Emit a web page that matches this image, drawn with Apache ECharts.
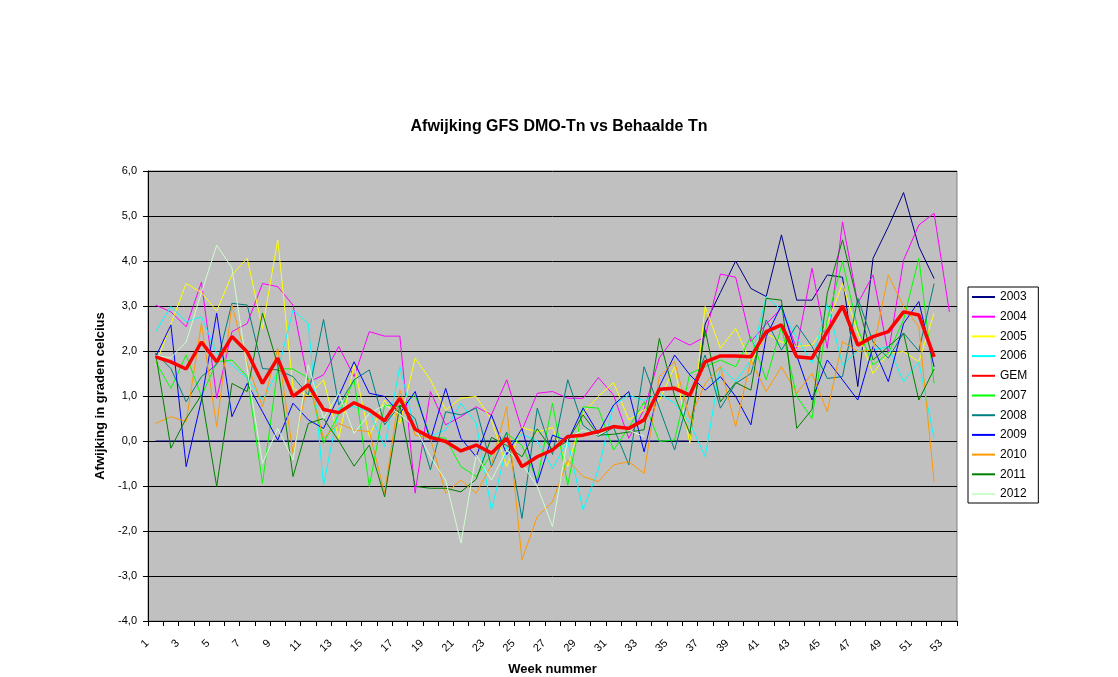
<!doctype html>
<html>
<head>
<meta charset="utf-8">
<title>Afwijking GFS DMO-Tn vs Behaalde Tn</title>
<script src="https://cdn.jsdelivr.net/npm/echarts@6/dist/echarts.min.js"></script>
<style>
html,body{margin:0;padding:0;background:#fff;}
#chart{width:1118px;height:677px;}
</style>
</head>
<body>
<div id="chart"></div>
<script>
// weken 1..53
var weken = [];
for (var w = 1; w <= 53; w++) { weken.push(String(w)); }

var j2003 = [0, 0, 0, 0, 0, 0, 0, 0, 0, 0,
             0, 0, 0, 0, 0, 0, 0, 0, 0, 0,
             0, 0, 0, 0, 0, 0, 0, 0, 0, 0,
             0, 0, 0, 0, 0, 0, 2.6, 3.3, 4.0, 3.39,
             3.21, 4.58, 3.13, 3.13, 3.69, 3.64, 1.21, 4.06, 4.76, 5.52,
             4.32, 3.61];
var j2004 = [3.02, 2.87, 2.54, 3.53, 0.95, 2.43, 2.61, 3.5, 3.43, 3.02,
             1.3, 1.47, 2.1, 1.43, 2.43, 2.33, 2.33, -1.16, 1.1, 0.36,
             0.54, 0.76, 0.58, 1.36, 0.24, 1.06, 1.1, 0.95, 0.95, 1.41,
             1.02, 0.06, 0.7, 1.85, 2.3, 2.13, 2.32, 3.71, 3.64, 2.21,
             2.6, 2.95, 2.06, 3.84, 2.06, 4.87, 3.06, 3.69, 1.95, 4.02,
             4.8, 5.06, 2.87];
var j2005 = [1.69, 2.6, 3.5, 3.3, 2.89, 3.69, 4.06, 2.5, 4.47, 1.17,
             1.0, 1.36, 0.06, 1.69, 0.1, 0.91, 0.39, 1.84, 1.36, 0.69,
             0.95, 0.99, 0.47, -0.57, 0.3, 0.2, 0.3, -0.57, 0.61, 0.99,
             1.3, 0.47, 0.69, 0.9, 1.65, -0.05, 2.99, 2.06, 2.5, 1.73,
             2.39, 2.2, 2.1, 2.13, 2.6, 3.5, 2.4, 1.5, 1.95, 1.99,
             1.76, 2.84];
var j2006 = [2.43, 2.99, 2.65, 2.76, 1.95, 1.69, 1.39, 0.91, 1.54, 2.91,
             2.61, -0.98, 0.73, 0.76, 0.65, -0.13, 1.65, 0.24, 0.1, 0.25,
             0.84, 0.4, -1.53, -0.13, 0.15, 0.0, -0.61, 0.0, -1.53, -0.64,
             0.8, 1.02, 0.9, 1.06, 0.84, 0.4, -0.35, 1.65, 1.32, 1.8,
             3.21, 2.91, 2.3, 1.73, 3.06, 1.69, 2.0, 2.02, 2.1, 1.32,
             1.76, 0.06];
var gem = [1.87, 1.76, 1.6, 2.2, 1.76, 2.32, 1.98, 1.28, 1.84, 0.99,
           1.25, 0.7, 0.63, 0.85, 0.69, 0.45, 0.95, 0.26, 0.08, -0.01,
           -0.22, -0.09, -0.27, 0.06, -0.57, -0.35, -0.2, 0.1, 0.13, 0.21,
           0.32, 0.28, 0.47, 1.15, 1.17, 1.02, 1.76, 1.89, 1.89, 1.87,
           2.43, 2.58, 1.87, 1.84, 2.43, 3.0, 2.13, 2.32, 2.43, 2.87,
           2.8, 1.87];
var j2007 = [1.76, 1.17, 1.91, 0.99, 1.76, 1.8, 1.43, -0.94, 1.61, 1.6,
             1.4, -0.05, 0.6, 1.36, -1.01, 0.8, 0.76, 1.02, 0.1, 0.06,
             -0.57, -0.79, -0.3, 0.17, -0.1, -0.87, 0.84, -0.98, 0.76, 0.73,
             -0.2, 0.3, 0.87, -0.01, 0.02, 1.5, 1.65, 1.8, 1.65, 2.32,
             1.36, 2.54, 0.99, 0.5, 2.7, 3.99, 2.5, 1.69, 1.95, 2.69,
             4.06, 1.28];
var j2008 = [1.95, 1.61, 0.87, 1.43, 1.7, 3.06, 3.02, 1.61, 1.58, 1.43,
             1.02, 2.7, 0.8, 1.36, 1.58, 0.36, 0.8, 0.5, -0.64, 0.65,
             0.58, 0.73, -0.57, 0.2, -1.72, 0.73, -0.3, 1.36, 0.35, 0.1,
             0.3, -0.53, 1.65, 0.73, -0.2, 1.06, 1.91, 0.73, 1.28, 1.5,
             2.69, 2.02, 2.58, 2.1, 1.39, 1.43, 3.17, 2.2, 1.84, 2.4,
             2.0, 3.5];
var j2009 = [1.87, 2.58, -0.57, 0.91, 2.84, 0.54, 1.28, 0.65, 0.02, 0.84,
             0.47, 0.28, 1.0, 1.76, 1.06, 0.99, 0.61, 1.1, 0.02, 1.17,
             0.06, -0.35, 0.58, -0.3, 0.28, -0.94, 0.13, 0.0, 0.73, 0.17,
             0.8, 1.1, -0.24, 1.21, 1.91, 1.47, 1.13, 1.43, 0.99, 0.36,
             2.32, 3.02, 1.9, 0.91, 1.8, 1.36, 0.91, 2.1, 1.32, 2.61,
             3.1, 1.65];
var j2010 = [0.39, 0.54, 0.43, 2.61, 0.32, 3.02, 1.73, 0.76, 2.06, -0.27,
             1.36, 0.06, 0.39, 0.24, 0.21, -1.16, 1.13, 0.13, 0.06, -1.16,
             -0.87, -1.16, -0.53, 0.76, -2.64, -1.68, -1.35, -0.42, -0.79, -0.9,
             -0.53, -0.46, -0.72, 1.43, 1.76, 0.5, 1.28, 1.65, 0.32, 1.8,
             1.1, 1.65, 1.06, 1.5, 0.65, 2.21, 1.99, 2.02, 3.69, 2.99,
             2.54, -0.9];
var j2011 = [1.95, -0.16, 0.5, 1.02, -1.01, 1.28, 1.1, 2.84, 1.69, -0.79,
             0.39, 0.5, 0.0, -0.56, -0.09, -1.24, 0.8, -1.01, -1.05, -1.05,
             -1.13, -0.85, 0.08, -0.1, -0.35, 0.27, -0.2, 0.0, 0.58, 0.13,
             0.15, 0.2, 0.25, 2.28, 1.0, 0.17, 2.47, 0.87, 1.3, 1.13,
             3.17, 3.13, 0.28, 0.7, 3.28, 4.47, 3.06, 1.8, 2.1, 2.39,
             0.91, 1.6];
var j2012 = [1.9, 1.85, 2.2, 3.3, 4.35, 3.85, 1.6, -0.5, 0.28, -0.42,
             1.69, 0.5, 1.06, 0.17, 0.61, 0.8, 0.6, 0.3, -0.35, -0.87,
             -2.27, -0.31, -0.87, -0.2, -0.5, -1.01, -1.9, 0.06, 0.24, 0.13,
             0.32, 0.24, 0.1];

var namen  = ['2003', '2004', '2005', '2006', 'GEM', '2007', '2008', '2009', '2010', '2011', '2012'];
var reeksen = [j2003, j2004, j2005, j2006, gem, j2007, j2008, j2009, j2010, j2011, j2012];
var kleuren = ['#000080', '#FF00FF', '#FFFF00', '#00FFFF', '#FF0000', '#00FF00',
               '#008080', '#0000FF', '#FF9900', '#008000', '#CCFFCC'];

var series = [];
for (var i = 0; i < namen.length; i++) {
  series.push({
    name: namen[i],
    type: 'line',
    data: reeksen[i],
    symbol: 'none',
    color: kleuren[i],
    lineStyle: {color: kleuren[i], width: namen[i] == 'GEM' ? 3.5 : 1},
    z: namen[i] == 'GEM' ? 3 : 2
  });
}

var myChart = echarts.init(document.getElementById('chart'));
myChart.setOption({
  animation: false,
  textStyle: {fontFamily: 'Arial, "Liberation Sans", sans-serif'},
  title: {
    text: 'Afwijking GFS DMO-Tn vs Behaalde Tn',
    left: 'center',
    top: 114,
    textStyle: {fontSize: 16, fontWeight: 'bold', color: '#000'}
  },
  legend: {
    data: namen,
    orient: 'vertical',
    left: 968,
    top: 287,
    padding: [4, 11, 3, 3],
    itemWidth: 23,
    itemHeight: 12,
    itemGap: 7.7,
    itemStyle: {opacity: 0},   // alleen de lijn, geen bolletje
    backgroundColor: '#fff',
    borderColor: '#000',
    borderWidth: 1,
    textStyle: {fontSize: 12, color: '#000'}
  },
  grid: {
    left: 148, right: 161, top: 171, bottom: 56,
    outerBoundsMode: 'none',
    show: true,
    backgroundColor: '#C0C0C0',
    borderColor: '#808080',
    borderWidth: 1
  },
  xAxis: {
    type: 'category',
    data: weken,
    boundaryGap: true,
    name: 'Week nummer',
    nameLocation: 'middle',
    nameGap: 42,
    nameTextStyle: {fontSize: 13, fontWeight: 'bold', color: '#000'},
    axisLine: {onZero: false, lineStyle: {color: '#000', width: 1}},
    axisTick: {show: true, interval: 0, length: 5, lineStyle: {color: '#000'}},
    axisLabel: {interval: 1, rotate: 45, fontSize: 11, color: '#000', margin: 12, padding: [0, 12, 0, 0]},
    splitLine: {show: false}
  },
  yAxis: {
    type: 'value',
    min: -4,
    max: 6,
    interval: 1,
    name: 'Afwijking in graden celcius',
    nameLocation: 'middle',
    nameGap: 40,
    nameTextStyle: {fontSize: 13, fontWeight: 'bold', color: '#000'},
    axisLine: {show: true, lineStyle: {color: '#000', width: 1}},
    axisTick: {show: true, length: 5, lineStyle: {color: '#000'}},
    axisLabel: {
      fontSize: 11, color: '#000', margin: 11,
      formatter: function (v) { return v.toFixed(1).replace('.', ','); }
    },
    splitLine: {show: true, lineStyle: {color: '#000', width: 1}}
  },
  series: series
});
</script>
</body>
</html>
